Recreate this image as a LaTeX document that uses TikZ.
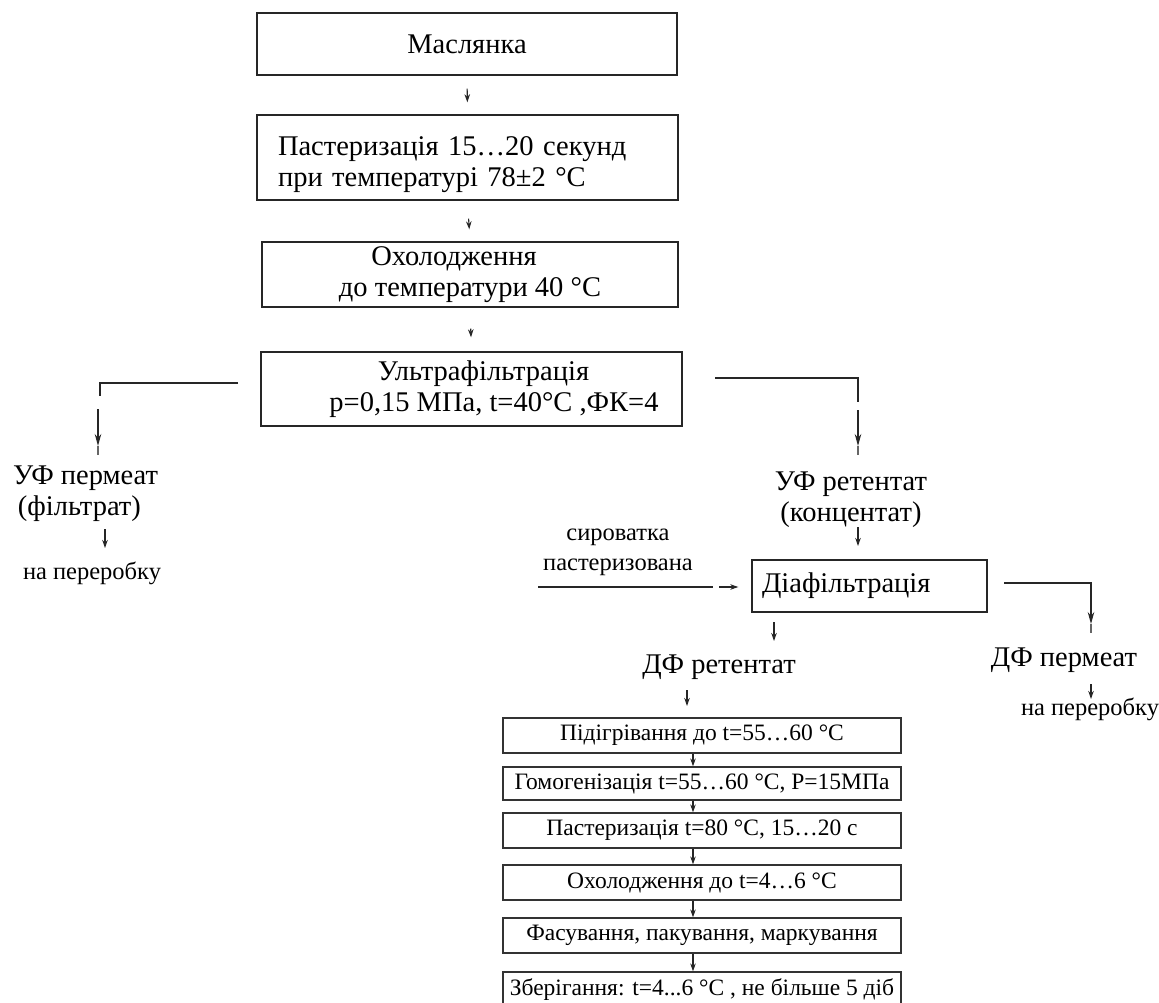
\documentclass[tikz,border=0pt]{standalone}
\usepackage{fontspec}
\setmainfont{Liberation Serif}
\usetikzlibrary{arrows.meta}
\begin{document}
\begin{tikzpicture}[x=1pt,y=-1pt,
 box/.style={draw=black!85, line width=1.4pt, inner sep=0pt, align=center, font=\fontsize{28.5}{31}\selectfont},
 sbox/.style={draw=black!80, line width=1.3pt, inner sep=0pt, minimum width=398pt, minimum height=35pt, font=\fontsize{23.5}{26}\selectfont},
 lab/.style={inner sep=0pt, align=center, font=\fontsize{28.5}{31}\selectfont},
 small/.style={inner sep=0pt, align=center, font=\fontsize{24.5}{30}\selectfont},
 arr/.style={draw=black!85, line width=1.1pt, -{Stealth[length=8pt,width=5.5pt]}},
 barr/.style={draw=black!85, line width=1.2pt, -{Stealth[length=12pt,width=6.5pt]}},
 ln/.style={draw=black!85, line width=1.3pt}]
\fill[white] (0,0) rectangle (1159,1003);
\useasboundingbox (0,0) rectangle (1159,1003);
\clip (0,0) rectangle (1159,1003);

% main column
\node[box, minimum width=420pt, minimum height=62pt] (b1) at (467,44) {Маслянка};
\node[box, minimum height=85pt, text width=379pt, inner xsep=21pt, align=left] (b2) at (467.5,157.5) {\rule{0pt}{34pt}Пастеризація 15…20 секунд\\при температурі 78±2 °C};
\node[box, minimum width=416pt, minimum height=65pt] (b3) at (470,274.5) {Охолодження\rule{32pt}{0pt}\\до температури 40 °C};
\node[box, minimum width=421pt, minimum height=74pt] (b4) at (471.5,389) {\rule{24pt}{0pt}Ультрафільтрація\\\rule{45pt}{0pt}p=0,15 МПа, t=40°C ,ФК=4};

\draw[arr, shorten <=13pt, shorten >=12pt] (b1.south) -- (b2.north);
\draw[arr, shorten <=18pt, shorten >=12pt] (b2.south) -- (b3.north);
\draw[arr, shorten <=21pt, shorten >=14pt] (b3.south) -- (b4.north);

% left branch
\coordinate (lA) at (238,383);
\coordinate (lB) at (100,383);
\coordinate (lC) at (100,396);
\coordinate (lD) at (98,409);
\coordinate (lE) at (98,446);
\coordinate (lT) at (98,455);
\draw[ln] (lA) -- (lB) -- (lC);
\draw[barr] (lD) -- (lE);
\draw[ln, black!60] (lE) -- (lT);
\node[lab, anchor=west, align=left] (ufp) at (13,494) {УФ пермеат\\\,(фільтрат)};
\coordinate (lF) at (105,529);
\coordinate (lG) at (105,548);
\draw[arr] (lF) -- (lG);
\node[small] (np1) at (92,573) {на переробку};

% right branch
\coordinate (rA) at (715,378);
\coordinate (rB) at (858,378);
\coordinate (rC) at (858,402);
\coordinate (rD) at (858,410);
\coordinate (rE) at (858,446);
\coordinate (rT) at (858,455);
\draw[ln] (rA) -- (rB) -- (rC);
\draw[barr] (rD) -- (rE);
\draw[ln, black!60] (rE) -- (rT);
\node[lab] (ufr) at (851,500) {УФ ретентат\\(концентат)};
\coordinate (rF) at (858,527);
\coordinate (rG) at (858,546);
\draw[arr] (rF) -- (rG);

\node[box, minimum height=52pt, text width=215pt, inner xsep=10pt, align=left, font=\fontsize{28.5}{32}\selectfont] (df) at (869.5,586) {Діафільтрація};

\node[small] (syr) at (618,552) {сироватка\\пастеризована};
\coordinate (sA) at (538,587);
\coordinate (sB) at (713,587);
\coordinate (sC) at (719,587);
\draw[ln] (sA) -- (sB);
\draw[arr, shorten >=13pt] (sC) -- (sC -| df.west);

\coordinate (dA) at (774,622);
\coordinate (dB) at (774,641);
\draw[arr] (dA) -- (dB);
\node[lab] (dfr) at (719,667) {ДФ ретентат};
\coordinate (dC) at (687,690);
\draw[arr, shorten >=12pt] (dC) -- (dC |- 0,718);

\coordinate (eA) at (1004,583);
\coordinate (eB) at (1091,583);
\coordinate (eC) at (1091,588);
\coordinate (eD) at (1091,624);
\coordinate (eT) at (1091,633);
\draw[ln] (eA) -- (eB) -- (eC);
\draw[barr] (eC) -- (eD);
\draw[ln, black!60] (eD) -- (eT);
\node[lab] (dfp) at (1064,660) {ДФ пермеат};
\coordinate (eE) at (1091,684);
\coordinate (eF) at (1091,699);
\draw[arr] (eE) -- (eF);
\node[small] (np2) at (1090,709) {на переробку};

% lower column
\node[sbox] (p1) at (702,735.5) {Підігрівання до t=55…60 °C};
\node[sbox, minimum height=33pt] (p2) at (702,783.5) {Гомогенізація t=55…60 °C, P=15МПа};
\node[sbox] (p3) at (702,830.5) {Пастеризація t=80 °C, 15…20 с};
\node[sbox] (p4) at (702,882.5) {Охолодження до t=4…6 °C};
\node[sbox] (p5) at (702,935.5) {Фасування, пакування, маркування};
\node[sbox] (p6) at (702,989.5) {Зберігання: t=4...6 °C , не більше 5 діб};

\foreach \a/\b in {p1/p2,p2/p3,p3/p4,p4/p5,p5/p6}
  \draw[arr] ([xshift=-9pt]\a.south) -- ([xshift=-9pt]\b.north);
\end{tikzpicture}
\end{document}
